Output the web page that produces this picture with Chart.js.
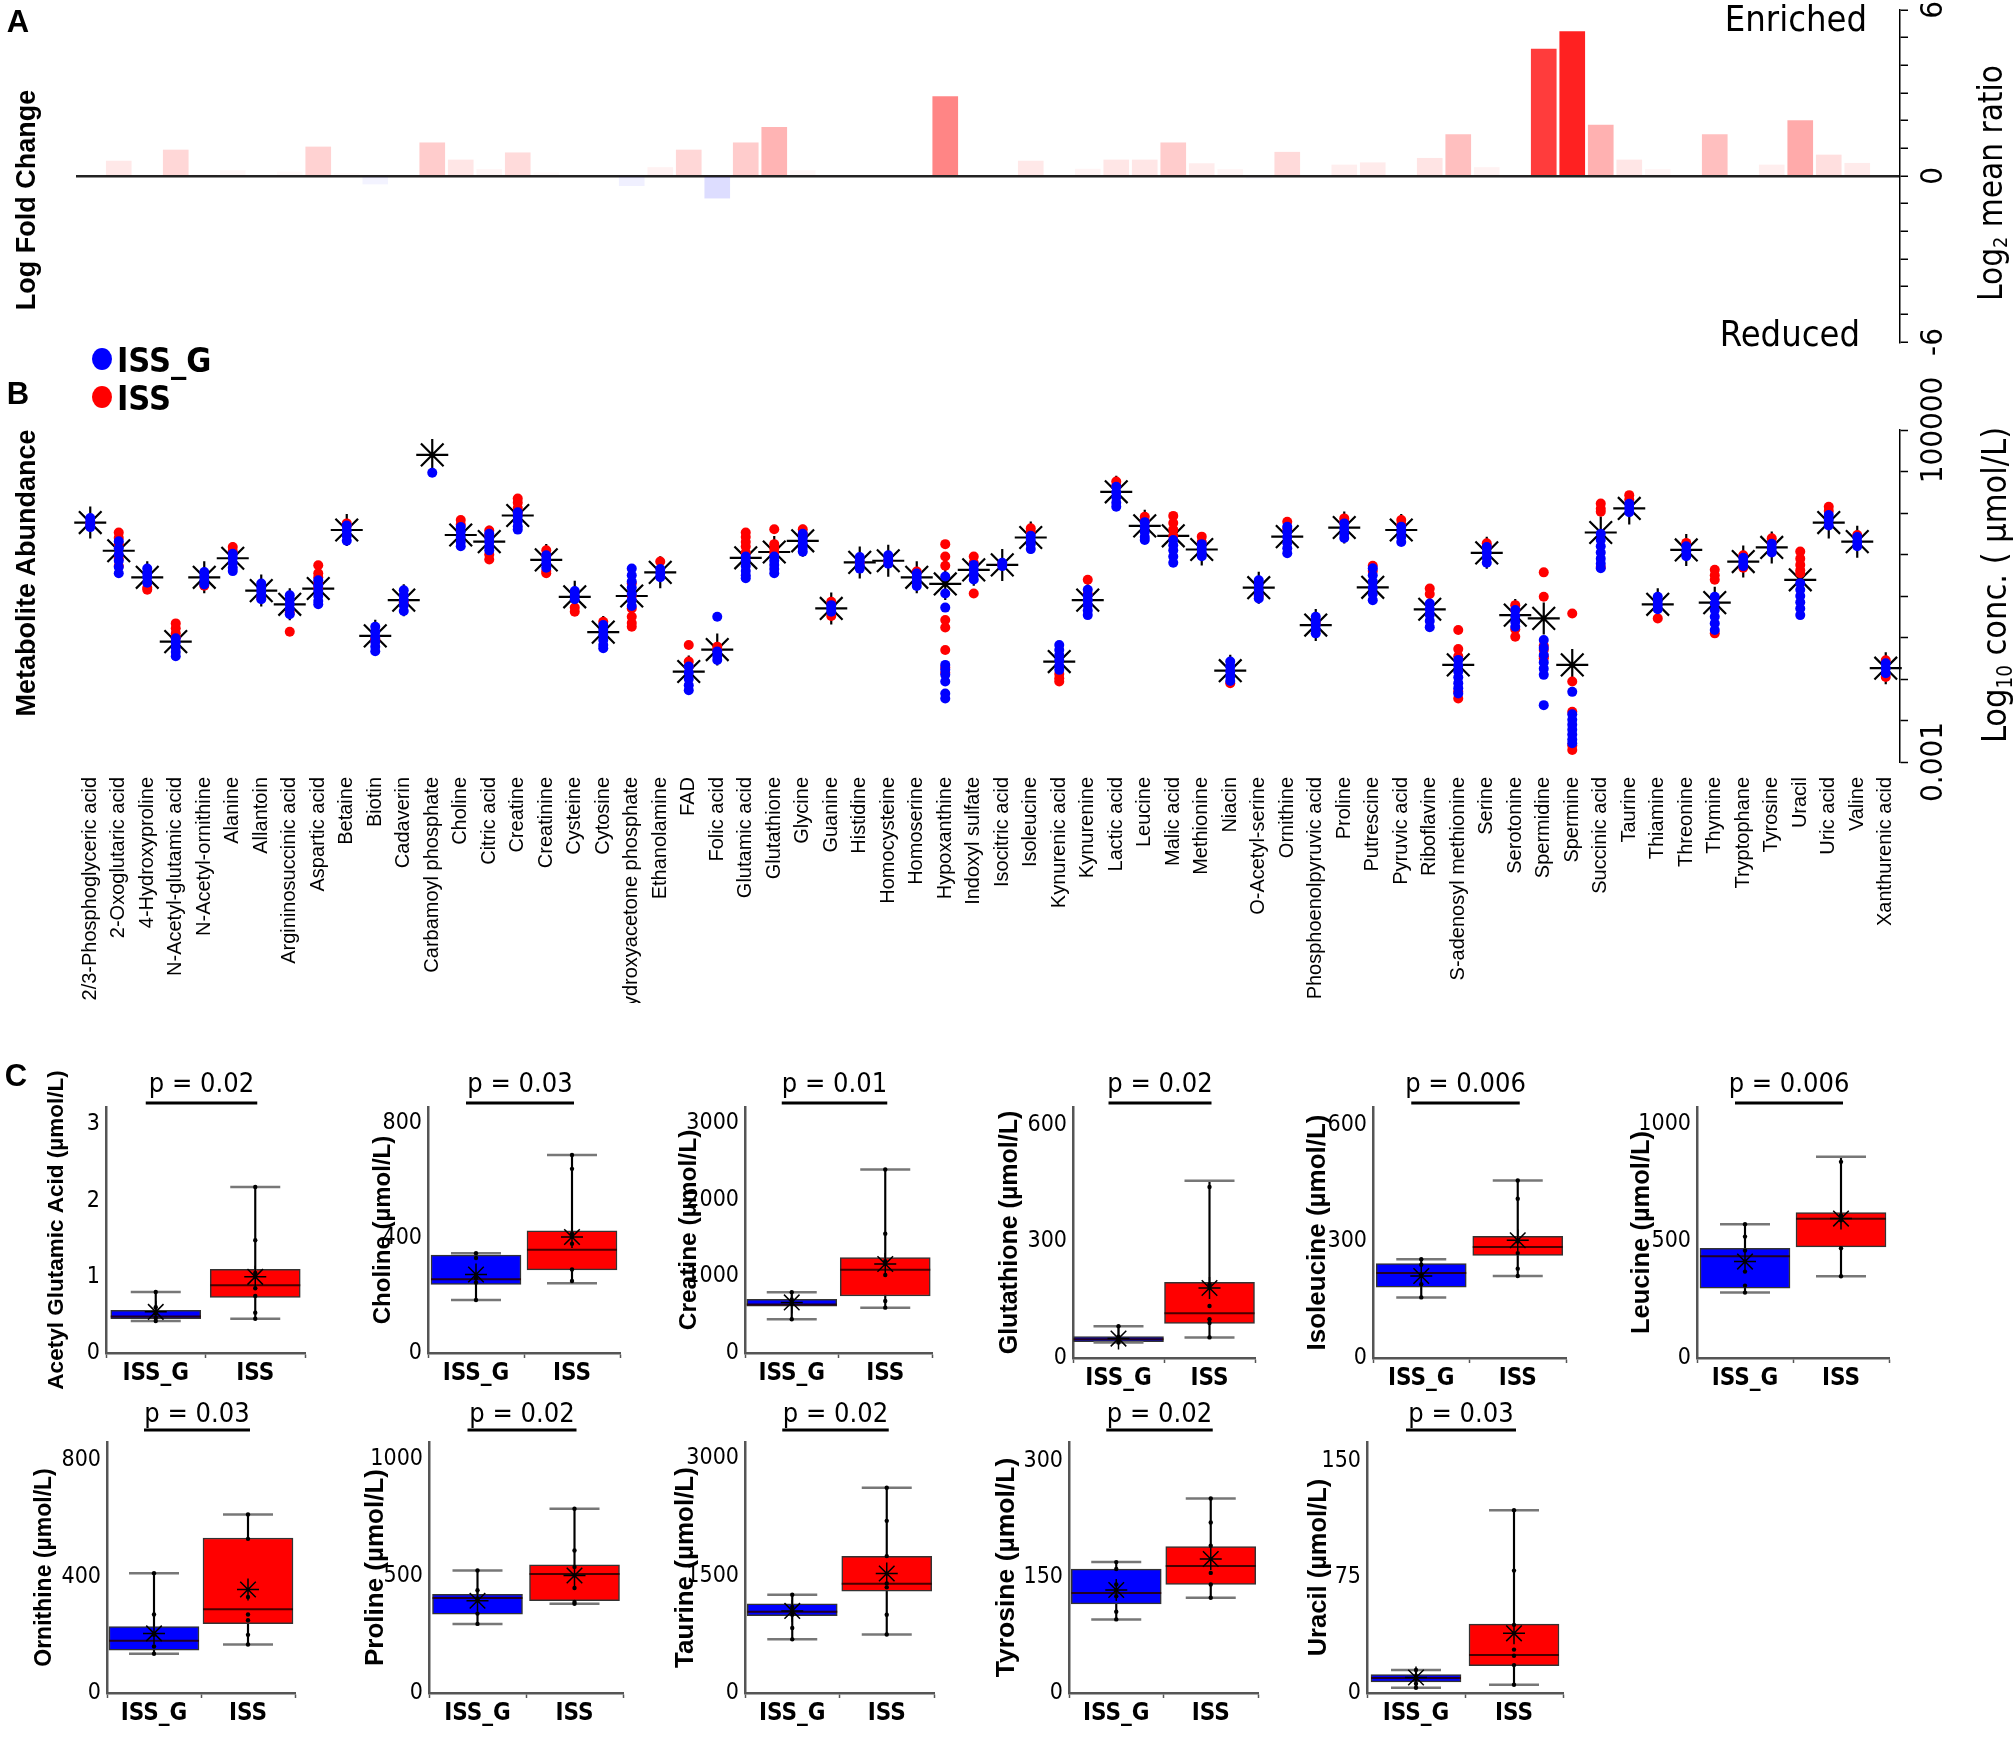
<!DOCTYPE html>
<html>
<head>
<meta charset="utf-8">
<script src="https://cdn.jsdelivr.net/npm/chart.js@4.4.0/dist/chart.umd.min.js"></script>
<style>
  body { margin: 0; background: #fff; }
  #page { position: relative; width: 2016px; height: 1740px; overflow: hidden; background: #fff; }
  canvas { position: absolute; }
  .t { position: absolute; white-space: nowrap; line-height: 1; color: #000; font-family: "Liberation Sans", Arial, sans-serif; }
  .n { font-family: "Liberation Sans Narrow", "DejaVu Sans Condensed", "Liberation Sans", sans-serif; }
  .c { transform: translate(-50%, -50%); }
  .r { transform: translate(-50%, -50%) rotate(-90deg); }
  .re { transform: translate(-100%, -50%); }
  .l { transform: translate(0, -50%); }
  sub { font-size: 0.6em; vertical-align: -0.3em; line-height: 0; }
  .dot { position: absolute; width: 20px; height: 22px; border-radius: 50%; transform: translate(-50%, -50%); }
</style>
</head>
<body>
<div id="page">
  <canvas id="chartA" width="2016" height="385" style="left:0;top:0"></canvas>
  <canvas id="chartB" width="2016" height="656" style="left:0;top:347px"></canvas>

  <div class="t c" style="left:18px;top:21px;font-weight:bold;font-size:31px">A</div>
  <div class="t r" style="left:26px;top:200px;font-weight:bold;font-size:27px">Log Fold Change</div>
  <div class="t re n" style="left:1867px;top:19px;font-size:36px">Enriched</div>
  <div class="t re n" style="left:1860px;top:334px;font-size:36px">Reduced</div>
  <div class="t r n" style="left:1990px;top:183px;font-size:33px">Log<sub>2</sub> mean ratio</div>

  <div class="t c" style="left:18px;top:393px;font-weight:bold;font-size:31px">B</div>
  <div class="dot" style="left:102px;top:359px;background:#0000ff"></div>
  <div class="t l n" style="left:117px;top:360px;font-weight:bold;font-size:34px">ISS_G</div>
  <div class="dot" style="left:102px;top:397px;background:#ff0000"></div>
  <div class="t l n" style="left:117px;top:398px;font-weight:bold;font-size:34px">ISS</div>
  <div class="t r" style="left:26px;top:573px;font-weight:bold;font-size:27px">Metabolite Abundance</div>
  <div class="t r n" style="left:1994px;top:585px;font-size:34px">Log<sub>10</sub> conc. ( µmol/L)</div>

  <div class="t c" style="left:16px;top:1075px;font-weight:bold;font-size:31px">C</div>
</div>

<script>
const metabolites = ['2/3-Phosphoglyceric acid', '2-Oxoglutaric acid', '4-Hydroxyproline', 'N-Acetyl-glutamic acid',
  'N-Acetyl-ornithine', 'Alanine', 'Allantoin', 'Argininosuccinic acid', 'Aspartic acid', 'Betaine', 'Biotin',
  'Cadaverin', 'Carbamoyl phosphate', 'Choline', 'Citric acid', 'Creatine', 'Creatinine', 'Cysteine', 'Cytosine',
  'Dihydroxyacetone phosphate', 'Ethanolamine', 'FAD', 'Folic acid', 'Glutamic acid', 'Glutathione', 'Glycine',
  'Guanine', 'Histidine', 'Homocysteine', 'Homoserine', 'Hypoxanthine', 'Indoxyl sulfate', 'Isocitric acid',
  'Isoleucine', 'Kynurenic acid', 'Kynurenine', 'Lactic acid', 'Leucine', 'Malic acid', 'Methionine', 'Niacin',
  'O-Acetyl-serine', 'Ornithine', 'Phosphoenolpyruvic acid', 'Proline', 'Putrescine', 'Pyruvic acid', 'Riboflavine',
  'S-adenosyl methionine', 'Serine', 'Serotonine', 'Spermidine', 'Spermine', 'Succinic acid', 'Taurine', 'Thiamine',
  'Threonine', 'Thymine', 'Tryptophane', 'Tyrosine', 'Uracil', 'Uric acid', 'Valine', 'Xanthurenic acid'];

// panel A, log2 mean ratio ISS / ISS_G
const log2Ratio = [0, 0.54, 0.05, 0.94, 0.07, 0.2, 0.03, 0.15, 1.05, 0.1,
  -0.29, 0, 1.2, 0.58, 0.24, 0.84, 0.12, 0, 0, -0.35,
  0.31, 0.94, -0.8, 1.2, 1.76, 0.2, -0.05, 0, 0, -0.05,
  2.87, 0, -0.05, 0.54, 0, 0.25, 0.58, 0.58, 1.2, 0.45,
  0.24, -0.1, 0.86, -0.05, 0.4, 0.48, 0, 0.64, 1.5, 0.31,
  -0.08, 4.59, 5.22, 1.84, 0.58, 0.24, 0, 1.5, 0, 0.4,
  2.0, 0.76, 0.46, 0];
const ratioTicks = [-6, 0, 6];

// panel B, log10 conc. (umol/L)
const meanLog10 = [2.77, 2.09, 1.45, -0.10, 1.45, 1.91, 1.13, 0.80, 1.18, 2.59,
  0.04, 0.90, 4.40, 2.47, 2.31, 2.94, 1.87, 0.98, 0.13, 1.00,
  1.57, -0.82, -0.29, 1.92, 2.06, 2.33, 0.70, 1.81, 1.85, 1.45,
  1.29, 1.63, 1.75, 2.41, -0.58, 0.90, 3.51, 2.69, 2.45, 2.12,
  -0.80, 1.20, 2.43, 0.30, 2.65, 1.21, 2.59, 0.68, -0.66, 2.04,
  0.54, 0.46, -0.66, 2.53, 3.11, 0.80, 2.11, 0.84, 1.83, 2.17,
  1.39, 2.77, 2.31, -0.74];

const issGLog10 = [
  [2.88, 2.80, 2.72, 2.66], [2.32, 2.15, 2.0, 1.85, 1.7, 1.55], [1.66, 1.55, 1.45, 1.32],
  [-0.02, -0.12, -0.24, -0.35, -0.45], [1.58, 1.48, 1.38, 1.28], [2.02, 1.92, 1.80, 1.68, 1.60],
  [1.30, 1.20, 1.10, 1.00, 0.92], [1.02, 0.92, 0.80, 0.68, 0.56], [1.38, 1.25, 1.12, 1.0, 0.88, 0.80],
  [2.70, 2.58, 2.45, 2.33], [0.26, 0.14, 0.02, -0.1, -0.22, -0.33], [1.14, 1.02, 0.9, 0.78, 0.64],
  [3.97], [2.66, 2.55, 2.42, 2.30, 2.20], [2.50, 2.40, 2.30, 2.18, 2.10],
  [3.02, 2.92, 2.80, 2.68, 2.60], [1.98, 1.88, 1.78, 1.68], [1.12, 1.02, 0.92],
  [0.30, 0.18, 0.06, -0.06, -0.18, -0.26], [1.66, 1.5, 1.35, 1.2, 1.05, 0.9, 0.76], [1.65, 1.55, 1.45],
  [-0.70, -0.85, -1.00, -1.15, -1.27], [0.50, -0.34, -0.44, -0.54], [1.95, 1.85, 1.72, 1.60, 1.50, 1.43],
  [1.95, 1.85, 1.75, 1.65, 1.55], [2.50, 2.40, 2.28, 2.16, 2.07], [0.78, 0.70, 0.62],
  [1.94, 1.84, 1.74, 1.66], [1.98, 1.88, 1.78], [1.54, 1.44, 1.34, 1.24],
  [1.47, 1.06, 0.72, -0.66, -0.78, -0.90, -1.06, -1.35, -1.47], [1.75, 1.64, 1.52, 1.40], [1.80, 1.72],
  [2.45, 2.35, 2.25, 2.13], [-0.18, -0.30, -0.42, -0.55, -0.68, -0.78], [1.15, 1.02, 0.90, 0.78, 0.65, 0.54],
  [3.63, 3.50, 3.38, 3.25, 3.15], [2.78, 2.66, 2.54, 2.42, 2.35], [2.35, 2.22, 2.10, 1.95, 1.80],
  [2.25, 2.15, 2.05, 1.96], [-0.58, -0.70, -0.82, -0.94, -1.05], [1.38, 1.27, 1.15, 1.03, 0.94],
  [2.67, 2.55, 2.42, 2.28, 2.15, 2.03], [0.50, 0.40, 0.30, 0.20, 0.10], [2.75, 2.62, 2.50, 2.40],
  [1.67, 1.50, 1.35, 1.20, 1.05, 0.90], [2.67, 2.55, 2.42, 2.30], [0.82, 0.68, 0.55, 0.40, 0.25],
  [-0.54, -0.68, -0.82, -0.96, -1.1, -1.22, -1.35], [2.18, 2.05, 1.92, 1.80], [0.66, 0.52, 0.38, 0.26],
  [-0.06, -0.25, -0.42, -0.60, -0.75, -0.90, -1.63], [-1.31, -1.85, -1.98, -2.10, -2.22, -2.34, -2.46, -2.55],
  [2.50, 2.35, 2.20, 2.05, 1.90, 1.78, 1.67], [3.22, 3.12, 3.02], [0.98, 0.88, 0.78, 0.68],
  [2.2, 2.08, 1.96], [0.98, 0.82, 0.66, 0.50, 0.34, 0.18], [1.92, 1.82, 1.72],
  [2.26, 2.15, 2.05], [1.31, 1.15, 1.00, 0.85, 0.70, 0.54], [2.95, 2.83, 2.70],
  [2.42, 2.30, 2.20], [-0.62, -0.74, -0.86]];

const issLog10 = [
  [2.75], [2.53, 2.40, 2.25, 1.90, 1.72], [1.2, 1.15], [0.34, 0.22, 0.1, 0.0], [1.25], [2.18, 2.08], [0.95],
  [0.6, 0.14], [1.74, 1.55, 1.45, 1.32, 1.2], [2.75, 2.70], [-0.08, -0.02], [0.85], [], [2.83, 2.72],
  [2.58, 2.47, 2.0, 1.88], [3.35, 3.25, 3.12, 3.0], [2.10, 1.98, 1.60, 1.55], [0.62, 0.72], [0.38],
  [1.30, 1.0, 0.7, 0.5, 0.35, 0.26], [1.83], [-0.18, -0.58, -0.70], [-0.22, -0.3], [2.53, 2.42, 2.30, 2.19, 2.05],
  [2.61, 2.25, 2.15, 2.05], [2.61, 2.5], [0.86, 0.52], [1.80], [1.84], [1.59],
  [2.25, 1.95, 1.73, 0.42, 0.24, -0.30, -0.72, -0.85], [1.95, 1.80, 1.06], [1.76], [2.63, 2.55],
  [-0.88, -0.98, -1.06], [1.39, 1.05], [3.76, 3.65], [2.91, 2.80], [2.93, 2.76, 2.60, 2.45], [2.43, 2.30],
  [-1.10], [1.0], [2.79, 2.62], [0.35], [2.87, 2.78], [1.73, 1.60], [2.83, 2.72], [1.18, 1.05],
  [0.18, -0.28, -0.45, -1.30, -1.47], [2.27, 2.2], [0.78, 0.66, 0.2, 0.02], [1.57, 0.98, -0.2, -0.3, -0.45, -0.5],
  [0.58, -1.06, -1.79, -2.60, -2.71], [3.23, 3.10, 3.03, 1.7], [3.43, 3.32], [0.46], [2.28],
  [1.63, 1.50, 1.39, 0.10], [1.98, 1.68], [2.39, 2.28], [2.07, 1.90, 1.75, 1.62, 1.55], [3.15, 3.05],
  [2.47], [-0.55, -0.95]];

const abundTicks = [-3, 5];
const abundTickLabels = ['0.001', '100000'];

// panel C, box plots (umol/L)
const groups = ['ISS_G', 'ISS'];
const boxNames = ['Acetyl Glutamic Acid', 'Choline', 'Creatine', 'Glutathione', 'Isoleucine', 'Leucine',
  'Ornithine', 'Proline', 'Taurine', 'Tyrosine', 'Uracil'];
const boxPValues = ['0.02', '0.03', '0.01', '0.02', '0.006', '0.006', '0.03', '0.02', '0.02', '0.02', '0.03'];
const boxYMax = [3.23, 855, 3215, 646, 646, 1075, 863, 1075, 3208, 324, 162];
const boxYStep = [1, 400, 1000, 300, 300, 500, 400, 500, 1500, 150, 75];
const boxMin = [[0.42, 0.45], [184, 242], [441, 593], [40, 53], [156, 211], [280, 350], [135, 167], [296, 382], [686, 747], [95, 123], [3.4, 5.3]];
const boxQ1 = [[0.45, 0.73], [238, 289], [613, 745], [42, 89], [182, 264], [299, 476], [147, 238], [338, 395], [988, 1302], [115, 140], [7.2, 17.6]];
const boxMedian = [[0.48, 0.89], [256, 359], [633, 1087], [48, 115], [219, 286], [436, 596], [180, 288], [407, 510], [1037, 1397], [129, 164], [9.7, 24.6]];
const boxQ3 = [[0.56, 1.10], [340, 425], [700, 1246], [55, 195], [243, 313], [470, 623], [228, 533], [423, 549], [1139, 1747], [160, 189], [11.9, 44.5]];
const boxMax = [[0.80, 2.18], [347, 688], [795, 2398], [82, 456], [254, 457], [573, 862], [412, 614], [525, 789], [1257, 2623], [169, 251], [14.8, 118]];
const boxMean = [[0.54, 1.00], [273, 403], [661, 1163], [50, 180], [211, 303], [413, 597], [205, 356], [395, 503], [1049, 1528], [133, 173], [10, 38.5]];
const boxDots = [
  [[0.80, 0.60, 0.52, 0.46, 0.42], [2.18, 1.48, 1.05, 0.85, 0.75, 0.53, 0.45]],
  [[347, 330, 260, 245, 184], [688, 640, 415, 380, 290, 250]],
  [[795, 700, 640, 441], [2398, 1560, 1200, 1020, 680, 593]],
  [[82, 55, 45, 40], [440, 190, 134, 100, 90, 53]],
  [[254, 240, 215, 190, 156], [457, 410, 300, 270, 230, 211]],
  [[573, 520, 460, 370, 310, 280], [840, 610, 590, 470, 350]],
  [[412, 270, 200, 160, 135], [614, 530, 330, 270, 250, 200, 167]],
  [[525, 440, 405, 340, 296], [789, 610, 540, 450, 390, 382]],
  [[1257, 1100, 1000, 830, 686], [2623, 2200, 1750, 1400, 1350, 1000, 747]],
  [[169, 160, 140, 125, 105, 95], [251, 220, 190, 155, 140, 123]],
  [[14.8, 11, 9, 6, 3.4], [118, 79, 44, 28, 24, 18, 5.3]]];

// where each small chart sits on the page
const cellLayout = [
  { axisX: 106, right: 342, top: 1100, bottom: 1353, titleGap: 49, titleSize: 22.5 },
  { axisX: 428, right: 657, top: 1072, bottom: 1353, titleGap: 45, titleSize: 24 },
  { axisX: 745, right: 969, top: 1070, bottom: 1353, titleGap: 56, titleSize: 24.5 },
  { axisX: 1073, right: 1292, top: 1075, bottom: 1360, titleGap: 63, titleSize: 25 },
  { axisX: 1373, right: 1603, top: 1080, bottom: 1364, titleGap: 55, titleSize: 26 },
  { axisX: 1697, right: 1926, top: 1082, bottom: 1367, titleGap: 55, titleSize: 25.5 },
  { axisX: 107, right: 332, top: 1417, bottom: 1702, titleGap: 62, titleSize: 23 },
  { axisX: 429, right: 660, top: 1413, bottom: 1702, titleGap: 53, titleSize: 26 },
  { axisX: 745, right: 971, top: 1420, bottom: 1703, titleGap: 59, titleSize: 26 },
  { axisX: 1069, right: 1295, top: 1418, bottom: 1702, titleGap: 62, titleSize: 26.5 },
  { axisX: 1367, right: 1600, top: 1422, bottom: 1706, titleGap: 48, titleSize: 25.5 }];

const NARROW = '"Liberation Sans Narrow", "DejaVu Sans Condensed", "Liberation Sans", sans-serif';
const SANS = '"Liberation Sans", Arial, sans-serif';
Chart.defaults.font.family = SANS;
Chart.defaults.color = '#000';

function rightLabels(values, labels) {
  return {
    id: 'rightLabels',
    afterDraw(chart) {
      const s = chart.scales.y;
      const ctx = chart.ctx;
      ctx.save();
      ctx.font = '31px ' + NARROW;
      ctx.fillStyle = '#000';
      ctx.textAlign = 'center';
      ctx.textBaseline = 'middle';
      values.forEach((v, i) => {
        ctx.save();
        ctx.translate(s.left + 34, s.getPixelForValue(v));
        ctx.rotate(-Math.PI / 2);
        ctx.fillText(labels[i], 0, 0);
        ctx.restore();
      });
      ctx.restore();
    }
  };
}

// ---- panel A
new Chart(document.getElementById('chartA'), {
  type: 'bar',
  data: {
    labels: metabolites,
    datasets: [{
      data: log2Ratio,
      backgroundColor: log2Ratio.map(v => v >= 0 ? 'rgba(255,0,0,' + Math.min(1, v / 6) + ')' : 'rgba(0,0,255,' + Math.min(1, -v / 6) + ')'),
      barThickness: 25,
      borderWidth: 0
    }]
  },
  options: {
    responsive: false,
    animation: false,
    events: [],
    layout: { padding: { top: 10, left: 76, right: 0, bottom: 43 } },
    plugins: { legend: { display: false }, tooltip: { enabled: false } },
    scales: {
      x: { display: false },
      y: {
        position: 'right', min: -6, max: 6,
        ticks: { display: false, stepSize: 1 },
        grid: {
          color: c => (c.tick && c.tick.value === 0) ? '#222' : 'rgba(0,0,0,0)',
          lineWidth: 2.5, tickColor: '#000', tickWidth: 1.5, tickLength: 8
        },
        border: { color: '#000', width: 1.5 },
        afterFit: s => { s.width = 116; }
      }
    }
  },
  plugins: [rightLabels(ratioTicks, ratioTicks.map(String))]
});

// ---- panel B
const blueData = [];
const redData = [];
metabolites.forEach((m, i) => {
  issGLog10[i].forEach(v => blueData.push({ x: m, y: v }));
  issLog10[i].forEach(v => redData.push({ x: m, y: v }));
});

new Chart(document.getElementById('chartB'), {
  type: 'line',
  data: {
    labels: metabolites,
    datasets: [
      { label: 'ISS_G', data: blueData, showLine: false, pointRadius: 5, pointBackgroundColor: '#0000ff', pointBorderWidth: 0, order: 0 },
      { label: 'ISS', data: redData, showLine: false, pointRadius: 5, pointBackgroundColor: '#ff0000', pointBorderWidth: 0, order: 1 },
      { label: 'mean', data: meanLog10, showLine: false, pointStyle: 'star', pointRadius: 16, pointBorderColor: '#000', pointBorderWidth: 2.2, order: 2 }
    ]
  },
  options: {
    responsive: false,
    animation: false,
    events: [],
    layout: { padding: { top: 83, left: 76, right: 0, bottom: 0 } },
    plugins: { legend: { display: false }, tooltip: { enabled: false } },
    scales: {
      x: {
        type: 'category', offset: true,
        grid: { display: false },
        border: { display: false },
        ticks: { autoSkip: false, minRotation: 90, maxRotation: 90, padding: 7, color: '#000', font: { size: 20, family: SANS } },
        afterFit: s => { s.height = 241; }
      },
      y: {
        position: 'right', min: -3, max: 5,
        ticks: { display: false, stepSize: 1 },
        grid: { drawOnChartArea: false, tickColor: '#000', tickWidth: 1.5, tickLength: 8 },
        border: { color: '#000', width: 1.5 },
        afterFit: s => { s.width = 116; }
      }
    }
  },
  plugins: [rightLabels(abundTicks, abundTickLabels)]
});

// ---- panel C
const page = document.getElementById('page');

function boxChart(k) {
  const L = cellLayout[k];
  const row = k < 6 ? 0 : 1;
  const cTop = row === 0 ? 1060 : 1395;
  const cBottom = row === 0 ? 1405 : 1740;
  const bracketY = row === 0 ? 43 : 35;
  const pTextY = row === 0 ? 25 : 20;
  const cv = document.createElement('canvas');
  cv.width = L.right - L.axisX + 105;
  cv.height = cBottom - cTop;
  cv.style.left = (L.axisX - 95) + 'px';
  cv.style.top = cTop + 'px';
  page.insertBefore(cv, page.firstChild);

  const tickValues = [];
  for (let v = 0; v <= boxYMax[k]; v += boxYStep[k]) tickValues.push(v);

  const pt = (arr) => {
    const out = [];
    groups.forEach((g, j) => out.push({ x: g, y: arr[j] }));
    return out;
  };
  const caps = pt(boxMin[k]).concat(pt(boxMax[k]));
  const dots = [];
  groups.forEach((g, j) => boxDots[k][j].forEach(v => dots.push({ x: g, y: v })));

  const cellText = {
    id: 'cellText',
    afterDraw(chart) {
      const ctx = chart.ctx;
      const xs = chart.scales.x;
      const area = chart.chartArea;
      const x0 = xs.getPixelForValue(0) - 10;
      const x1 = xs.getPixelForValue(1) + 2;
      ctx.save();
      ctx.strokeStyle = '#000';
      ctx.lineWidth = 3;
      ctx.beginPath();
      ctx.moveTo(x0, bracketY);
      ctx.lineTo(x1, bracketY);
      ctx.stroke();
      ctx.fillStyle = '#000';
      ctx.font = '27px ' + NARROW;
      ctx.textAlign = 'center';
      ctx.textBaseline = 'middle';
      ctx.fillText('p = ' + boxPValues[k], (x0 + x1) / 2, pTextY);
      // y axis title
      ctx.translate(area.left - L.titleGap, (area.top + area.bottom) / 2);
      ctx.rotate(-Math.PI / 2);
      ctx.font = 'bold ' + L.titleSize + 'px ' + SANS;
      ctx.fillText(boxNames[k] + ' (µmol/L)', 0, 0);
      ctx.restore();
    }
  };

  new Chart(cv, {
    type: 'bar',
    data: {
      labels: groups,
      datasets: [
        { data: groups.map((g, j) => [boxMin[k][j], boxMax[k][j]]), backgroundColor: '#000', barThickness: 1.5, grouped: false, order: 5 },
        {
          data: groups.map((g, j) => [boxQ1[k][j], boxQ3[k][j]]), backgroundColor: ['#0000ff', '#ff0000'],
          borderColor: '#333', borderWidth: 1.5, borderSkipped: false, barThickness: 90, grouped: false, order: 4
        },
        { type: 'line', data: caps, showLine: false, pointStyle: 'line', pointRadius: 25, pointBorderColor: '#777', pointBorderWidth: 2.5, order: 3 },
        { type: 'line', data: pt(boxMedian[k]), showLine: false, pointStyle: 'line', pointRadius: 45, pointBorderColor: 'rgba(40,0,0,0.85)', pointBorderWidth: 2, order: 2 },
        { type: 'line', data: dots, showLine: false, pointRadius: 2.2, pointBackgroundColor: '#000', pointBorderWidth: 0, order: 1 },
        { type: 'line', data: pt(boxMean[k]), showLine: false, pointStyle: 'star', pointRadius: 11, pointBorderColor: '#000', pointBorderWidth: 1.5, order: 0 }
      ]
    },
    options: {
      responsive: false,
      animation: false,
      events: [],
      layout: { padding: { top: L.top - cTop, left: 0, right: 10, bottom: 0 } },
      plugins: { legend: { display: false }, tooltip: { enabled: false } },
      scales: {
        x: {
          offset: true,
          grid: { display: true, drawOnChartArea: false, tickLength: 5, tickColor: '#555', tickWidth: 1.5 },
          border: { color: '#555', width: 2.5 },
          ticks: { padding: 1, color: '#000', font: { size: 24, weight: 'bold', family: NARROW } },
          afterFit: s => { s.height = cBottom - L.bottom; }
        },
        y: {
          min: 0, max: boxYMax[k],
          grid: { display: false, drawTicks: false },
          border: { color: '#555', width: 2.5 },
          ticks: { padding: 6, color: '#000', font: { size: 23, family: NARROW }, callback: v => String(v) },
          afterBuildTicks: s => { s.ticks = tickValues.map(v => ({ value: v })); },
          afterFit: s => { s.width = 95; }
        }
      }
    },
    plugins: [cellText]
  });
}

for (let k = 0; k < boxNames.length; k++) boxChart(k);
</script>
</body>
</html>
